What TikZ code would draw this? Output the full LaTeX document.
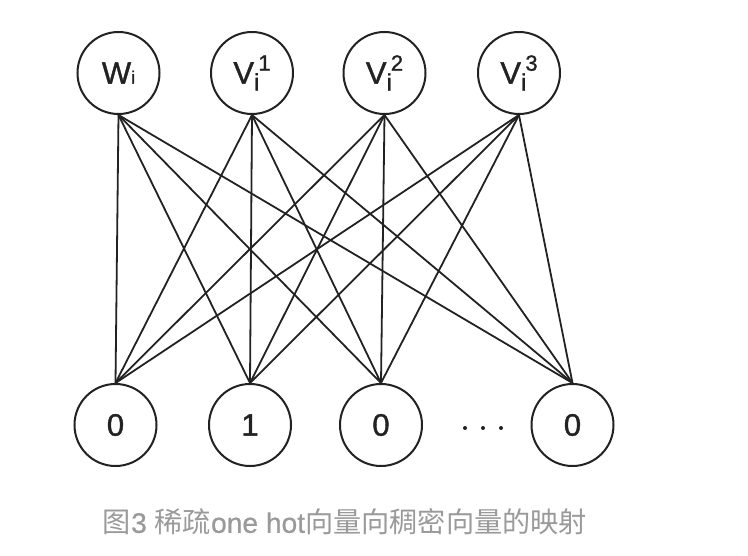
\documentclass[tikz,border=0pt]{standalone}
\usepackage{fontspec}
\setmainfont{Liberation Sans}
\newfontfamily\cjk{Noto Sans CJK SC}
\newfontfamily\labelfont{Liberation Sans}[FakeBold=1.2]
\newfontfamily\capfont{Liberation Sans}[FakeBold=0.6]
\definecolor{captiongray}{HTML}{9A9A9A}
\definecolor{inkc}{HTML}{222222}
\newcommand{\labV}[1]{V\raisebox{-7pt}{\fontsize{24}{24}\selectfont i}\kern-1pt\raisebox{13pt}{\fontsize{22}{22}\selectfont #1}}
\begin{document}
\begin{tikzpicture}[x=1pt,y=-1pt,
  unit/.style={circle,draw=inkc,line width=2pt,minimum size=82pt,inner sep=0pt,
    font=\labelfont\fontsize{31}{31}\selectfont,text=inkc},
  link/.style={draw=inkc,line width=1.8pt},
  dotmark/.style={circle,fill=inkc,inner sep=0pt,minimum size=4pt}]
\useasboundingbox (0,0) rectangle (748,556);
\fill[white] (0,0) rectangle (748,556);
% top units
\node[unit] (w)  at (118.5,73) {W\fontsize{18}{18}\selectfont i};
\node[unit] (v1) at (252,73) {\labV{1}};
\node[unit] (v2) at (384.5,73) {\labV{2}};
\node[unit] (v3) at (519,73) {\labV{3}};
% bottom units
\node[unit] (b1) at (115.5,425) {0};
\node[unit] (b2) at (250,425) {1};
\node[unit] (b3) at (381,425) {0};
\node[unit] (b4) at (572.5,425) {0};
% dots
\node[dotmark] (d1) at (465,428) {};
\node[dotmark] (d2) at (483,428) {};
\node[dotmark] (d3) at (501,428) {};
% links
\foreach \t in {w,v1,v2,v3}{
  \foreach \b in {b1,b2,b3,b4}{
    \draw[link] (\t.south) -- (\b.north);
  }
}
% caption
\node[text=captiongray,inner sep=0pt] (cap) at (345,522)
  {\resizebox{484pt}{!}{\fontsize{26}{26}\selectfont{\cjk 图}\capfont 3 {\cjk 稀疏}one hot{\cjk 向量向稠密向量的映射}}};
\end{tikzpicture}
\end{document}
